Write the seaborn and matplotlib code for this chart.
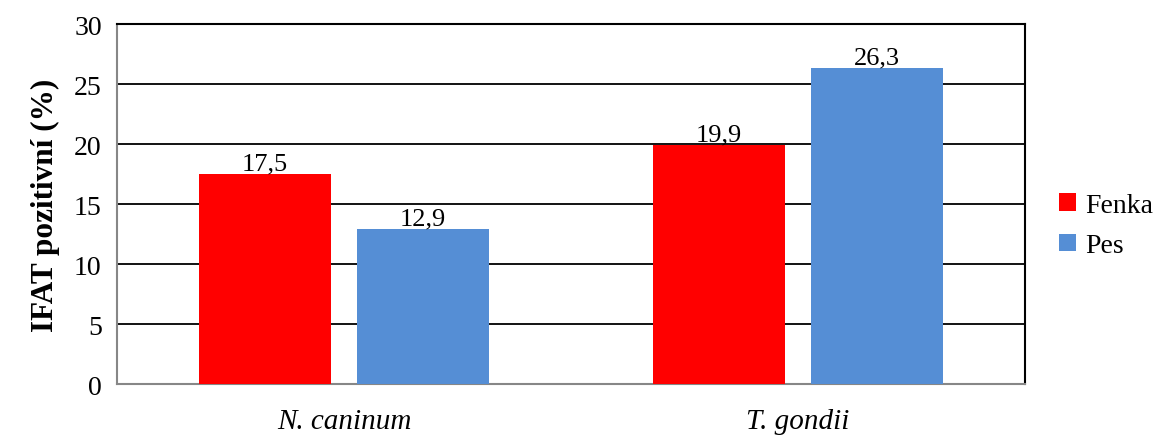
import pandas as pd
import matplotlib
matplotlib.use("Agg")
import matplotlib.pyplot as plt
import seaborn as sns

# data
parasites = ["N. caninum", "T. gondii"]
fenka = [17.5, 19.9]
pes = [12.9, 26.3]
groups = ["Fenka", "Pes"]
colors = ["#FF0000", "#558ED5"]

df = pd.DataFrame({
    "parasit": parasites * 2,
    "skupina": [groups[0]] * 2 + [groups[1]] * 2,
    "hodnota": fenka + pes,
})

sns.set_style("white")
plt.rcParams["font.family"] = ["Liberation Serif", "DejaVu Serif"]
plt.rcParams["text.color"] = "black"
plt.rcParams["xtick.color"] = "black"
plt.rcParams["ytick.color"] = "black"
plt.rcParams["axes.labelcolor"] = "black"

fig = plt.figure(figsize=(11.63, 4.39), dpi=100)
ax = fig.add_axes([0.1006, 0.123, 0.7808, 0.820])

sns.barplot(data=df, x="parasit", y="hodnota", hue="skupina",
            palette=colors, width=0.696, gap=0.165, saturation=1,
            linewidth=0, ax=ax, zorder=3)

for cont in ax.containers:
    ax.bar_label(cont, labels=[f"{v:.1f}".replace(".", ",") for v in cont.datavalues],
                 fontsize=19, padding=0, color="black")

ax.set_xlim(-0.5, 1.5)
ax.set_ylim(0, 30)
ax.set_yticks(range(0, 31, 5))
ax.yaxis.grid(True, color="black", linewidth=1.3, zorder=0)
ax.set_axisbelow(True)

ax.set_xticks([-0.5, 0.5, 1.5], minor=True)
ax.tick_params(axis="x", which="major", length=0, pad=17, labelsize=21)
ax.tick_params(axis="x", which="minor", length=7, color="#878787", width=1.3, direction="out")
ax.tick_params(axis="y", length=6, color="#878787", width=1.3, direction="out",
               labelsize=20, pad=5, labelcolor="black")
for lab in ax.get_xticklabels():
    lab.set_fontstyle("italic")

ax.set_xlabel("")
ax.set_ylabel("IFAT pozitivní (%)", fontsize=22.5, fontweight="bold", labelpad=10)

for side in ["left", "bottom"]:
    ax.spines[side].set_color("#878787")
    ax.spines[side].set_linewidth(1.5)
for side in ["top", "right"]:
    ax.spines[side].set_color("black")
    ax.spines[side].set_linewidth(1.5)

ax.legend(title=None, frameon=False, fontsize=20, loc="center left",
          bbox_to_anchor=(1.01, 0.44), handlelength=0.6, handleheight=0.6,
          handletextpad=0.35, labelspacing=0.55)

fig.savefig("out.png", dpi=100)
